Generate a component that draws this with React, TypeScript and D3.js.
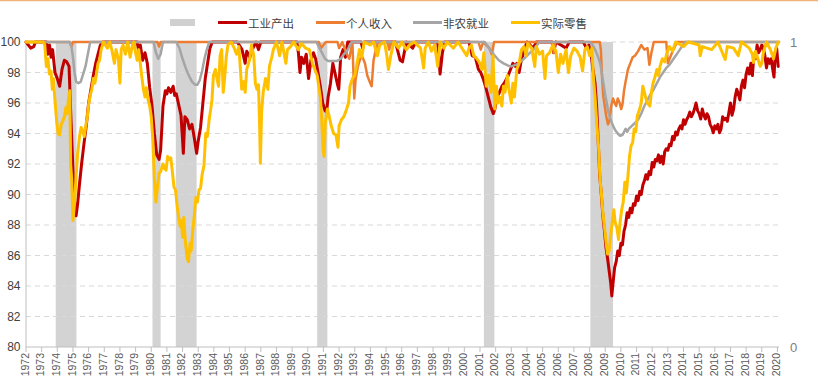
import React from 'react'
import * as d3 from 'd3'

// [year, % of prior peak]
const industrial: [number, number][] = [
  [1972.0,100],[1972.3,99.6],[1972.5,99.7],[1972.6,100],[1973.3,100],[1973.4,99.2],[1973.5,99.8],[1973.6,99.0],[1973.7,99.5],[1973.85,98.0],[1974.0,97.6],[1974.15,97.1],[1974.3,98.2],[1974.45,98.8],[1974.6,98.7],[1974.75,98.4],[1974.85,95.5],[1975.0,91.6],[1975.1,89.5],[1975.2,88.6],[1975.3,89.4],[1975.4,90.5],[1975.55,92.0],[1975.7,93.3],[1975.85,94.5],[1976.0,96.0],[1976.15,96.9],[1976.3,97.8],[1976.45,98.6],[1976.6,99.2],[1976.75,99.8],[1976.9,100],
  [1979.1,100],[1979.2,99.4],[1979.3,99.8],[1979.45,98.8],[1979.6,99.3],[1979.75,98.6],[1979.9,97.0],[1980.05,95.8],[1980.2,94.0],[1980.35,92.6],[1980.5,92.3],[1980.6,92.9],[1980.75,95.8],[1980.9,96.8],[1981.0,96.6],[1981.1,97.0],[1981.25,96.7],[1981.4,97.1],[1981.5,96.5],[1981.6,96.6],[1981.75,95.9],[1981.9,95.2],[1982.0,93.6],[1982.05,92.7],[1982.15,95.1],[1982.3,94.9],[1982.45,94.3],[1982.6,94.6],[1982.75,93.7],[1982.9,92.7],[1983.0,93.5],[1983.15,94.4],[1983.3,96.0],[1983.45,97.6],[1983.6,98.6],[1983.75,99.6],[1983.9,100],
  [1985.5,100],[1985.8,99.5],[1986.0,98.6],[1986.1,99.4],[1986.3,99.0],[1986.5,99.6],[1986.7,100],[1986.85,99.5],[1987.0,100],[1989.3,100],[1989.4,99.3],[1989.5,98.0],[1989.6,99.0],[1989.75,98.6],[1989.9,99.2],[1990.05,97.6],[1990.2,98.8],[1990.36,99.3],[1990.5,98.9],[1990.65,98.0],[1990.8,97.1],[1990.95,96.0],[1991.1,95.5],[1991.2,95.4],[1991.3,96.4],[1991.45,97.3],[1991.6,98.6],[1991.75,97.9],[1991.9,97.2],[1991.98,96.9],[1992.1,99.0],[1992.25,99.5],[1992.4,99.0],[1992.55,100],
  [1993.4,100],[1993.5,99.6],[1993.6,100],[1995.6,100],[1995.75,99.4],[1995.9,98.8],[1996.05,98.7],[1996.2,99.5],[1996.3,100],[1996.7,99.6],[1996.9,100],[1998.3,100],[1998.45,97.9],[1998.6,99.3],[1998.75,100],
  [2000.3,100],[2000.5,99.1],[2000.7,99.0],[2000.9,98.2],[2001.05,98.0],[2001.2,97.6],[2001.35,97.1],[2001.55,96.3],[2001.7,95.7],[2001.85,95.3],[2001.95,95.6],[2002.05,96.3],[2002.2,96.6],[2002.4,97.1],[2002.55,97.3],[2002.7,97.6],[2002.8,97.8],[2002.95,98.2],[2003.1,98.6],[2003.25,98.4],[2003.35,98.6],[2003.5,98.0],[2003.6,98.6],[2003.75,99.2],[2003.9,99.7],[2004.0,100],[2004.4,99.6],[2004.6,100],[2005.6,100],[2005.7,99.3],[2005.85,100],[2006.5,99.6],[2006.7,100],
  [2007.6,100],[2007.8,99.6],[2007.95,99.8],[2008.1,99.2],[2008.2,98.3],[2008.35,97.3],[2008.45,95.8],[2008.55,93.5],[2008.65,91.2],[2008.75,90.0],[2008.85,88.6],[2008.95,87.6],[2009.05,86.5],[2009.15,85.8],[2009.25,85.0],[2009.35,84.2],[2009.42,83.35],[2009.5,84.2],[2009.6,85.2],[2009.7,85.6],[2009.8,86.3],[2009.9,86.0],[2010.0,86.8],[2010.1,86.7],[2010.2,87.6],[2010.3,88.0],[2010.4,88.8],[2010.5,88.5],[2010.6,89.1],[2010.7,88.8],[2010.8,89.4],[2010.9,89.3],[2011.0,89.9],[2011.1,89.6],[2011.2,90.2],[2011.3,90.0],[2011.4,90.6],[2011.5,90.9],[2011.6,91.3],[2011.7,91.0],[2011.8,91.5],[2011.9,91.3],
  [2012.0,92.1],[2012.1,91.8],[2012.2,92.3],[2012.3,92.2],[2012.4,92.6],[2012.5,92.1],[2012.6,92.5],[2012.7,92.0],[2012.8,92.8],[2012.9,93.0],[2013.0,92.9],[2013.1,93.3],[2013.2,93.2],[2013.3,93.8],[2013.4,93.6],[2013.5,94.1],[2013.6,93.9],[2013.7,94.3],[2013.8,94.5],[2013.9,94.3],[2014.0,94.9],[2014.1,94.6],[2014.2,94.9],[2014.3,95.1],[2014.4,95.4],[2014.5,95.1],[2014.6,95.3],[2014.7,95.6],[2014.8,96.0],[2014.9,95.5],[2015.0,95.3],[2015.1,94.95],[2015.2,95.6],[2015.3,95.2],[2015.4,94.95],[2015.5,95.3],[2015.6,95.1],[2015.7,94.6],[2015.8,94.4],[2015.9,94.05],
  [2016.0,94.5],[2016.1,94.3],[2016.2,94.6],[2016.3,94.05],[2016.4,94.3],[2016.5,95.1],[2016.6,94.9],[2016.7,95.0],[2016.8,94.8],[2016.9,95.4],[2017.0,96.0],[2017.1,95.2],[2017.2,95.6],[2017.3,96.4],[2017.4,96.9],[2017.5,96.6],[2017.6,96.2],[2017.7,97.1],[2017.8,97.5],[2017.9,97.0],[2018.0,97.9],[2018.1,98.3],[2018.2,97.9],[2018.3,98.6],[2018.4,97.8],[2018.5,99.2],[2018.6,98.9],[2018.7,99.8],[2018.8,99.3],[2018.9,99.5],[2019.0,99.8],[2019.1,99.6],[2019.2,99.1],[2019.3,98.3],[2019.4,98.9],[2019.5,98.6],[2019.6,98.9],[2019.7,98.2],[2019.78,97.7],[2019.87,99.4],[2019.95,99.6],[2020.05,98.4],
]

const income: [number, number][] = [
  [1972,100],[1974.8,100],[1974.9,99.7],[1975.0,100],[1980.4,100],[1980.5,99.7],[1980.6,100],[1990.7,100],[1990.85,99.6],[1991.0,99.8],[1991.15,100],[1991.9,100],[1992.0,99.6],[1992.2,100],[1992.5,99.2],[1992.65,98.9],[1992.85,100],[1992.97,96.3],[1993.05,97.5],[1993.2,98.4],[1993.35,98.9],[1993.5,99.0],[1993.65,98.6],[1993.8,97.8],[1993.95,97.4],[1994.08,97.1],[1994.2,98.8],[1994.35,99.5],[1994.5,100],
  [1995.1,100],[1995.2,99.5],[1995.35,100],[2000.9,100],[2001.05,99.5],[2001.2,100],[2001.6,99.6],[2001.75,99.2],[2001.9,100],[2005.6,100],[2005.7,99.3],[2005.8,100],
  [2008.65,100],[2008.72,99.5],[2008.8,97.6],[2008.88,96.4],[2008.97,95.8],[2009.07,95.1],[2009.18,94.6],[2009.28,94.9],[2009.38,95.8],[2009.5,96.3],[2009.6,96.0],[2009.7,95.8],[2009.8,96.3],[2009.92,96.0],[2010.02,95.6],[2010.1,95.9],[2010.2,96.8],[2010.3,97.4],[2010.45,98.2],[2010.6,98.6],[2010.75,99.0],[2010.9,99.1],[2011.1,99.4],[2011.3,99.8],[2011.5,99.5],[2011.7,99.6],[2011.82,98.5],[2011.95,99.3],[2012.1,100],[2012.9,100],[2013.0,98.6],[2013.15,99.0],[2013.35,99.5],[2013.6,100],[2020.1,100],
]

const payrolls: [number, number][] = [
  [1972,100],[1974.8,100],[1974.9,99.7],[1975.0,99.0],[1975.1,98.0],[1975.2,97.4],[1975.35,97.3],[1975.5,97.4],[1975.65,97.9],[1975.8,98.4],[1975.95,99.2],[1976.1,100],
  [1980.15,100],[1980.3,99.3],[1980.45,98.9],[1980.6,99.2],[1980.75,100],[1981.6,100],[1981.8,99.6],[1982.0,98.9],[1982.2,98.3],[1982.4,97.8],[1982.6,97.4],[1982.8,97.2],[1982.95,97.2],[1983.1,97.5],[1983.25,98.1],[1983.4,98.9],[1983.55,99.5],[1983.7,100],
  [1990.55,100],[1990.7,99.7],[1990.9,99.3],[1991.1,98.9],[1991.3,98.75],[1991.6,98.75],[1991.85,98.75],[1992.1,98.9],[1992.3,99.2],[1992.5,99.4],[1992.8,100],
  [2001.3,100],[2001.5,99.7],[2001.7,99.4],[2001.95,99.1],[2002.2,98.8],[2002.5,98.6],[2002.8,98.45],[2003.0,98.4],[2003.3,98.5],[2003.6,98.7],[2003.9,99.0],[2004.2,99.3],[2004.5,99.6],[2004.8,100],
  [2008.0,100],[2008.2,99.8],[2008.4,99.4],[2008.55,99.0],[2008.7,98.5],[2008.8,97.8],[2008.9,97.2],[2009.0,96.5],[2009.1,96.0],[2009.2,95.4],[2009.35,94.9],[2009.5,94.5],[2009.65,94.2],[2009.8,94.0],[2009.95,93.85],[2010.1,93.9],[2010.2,94.1],[2010.3,94.3],[2010.4,94.1],[2010.5,94.3],[2010.7,94.5],[2010.9,94.7],[2011.1,94.9],[2011.3,95.3],[2011.5,95.8],[2011.7,96.2],[2011.9,96.6],[2012.1,96.9],[2012.3,97.3],[2012.5,97.7],[2012.7,98.0],[2012.9,98.3],[2013.1,98.5],[2013.3,98.8],[2013.5,99.1],[2013.7,99.4],[2013.9,99.7],[2014.1,100],[2020.1,100],
]

const retail: [number, number][] = [
  [1972.0,100],[1973.1,100],[1973.2,99.8],[1973.3,98.4],[1973.4,98.9],[1973.5,97.9],[1973.6,98.1],[1973.68,96.9],[1973.75,97.6],[1973.85,96.2],[1973.95,94.9],[1974.05,94.0],[1974.15,93.9],[1974.25,94.6],[1974.35,94.8],[1974.45,95.1],[1974.55,95.7],[1974.62,95.3],[1974.72,96.3],[1974.8,96.8],[1974.85,92.0],[1974.92,91.0],[1975.0,88.3],[1975.1,89.4],[1975.2,91.2],[1975.3,92.7],[1975.42,93.8],[1975.52,94.4],[1975.62,94.2],[1975.72,93.8],[1975.82,94.5],[1975.92,95.1],[1976.0,95.9],[1976.1,96.5],[1976.2,96.9],[1976.3,97.6],[1976.4,97.3],[1976.5,97.9],[1976.6,98.6],[1976.7,98.8],[1976.8,99.5],[1976.95,100],
  [1977.2,99.6],[1977.35,100],[1977.5,99.4],[1977.65,98.6],[1977.75,99.5],[1977.9,98.9],[1978.0,97.3],[1978.08,99.5],[1978.2,99.8],[1978.35,99.2],[1978.5,100],[1978.65,99.0],[1978.8,99.8],[1978.9,100],[1979.0,99.3],[1979.1,98.8],[1979.2,99.5],[1979.3,98.6],[1979.4,97.7],[1979.5,96.9],[1979.6,96.4],[1979.68,97.0],[1979.8,96.2],[1979.9,95.8],[1980.0,95.1],[1980.1,93.6],[1980.2,91.0],[1980.3,89.5],[1980.4,90.5],[1980.5,91.4],[1980.6,91.5],[1980.75,92.0],[1980.85,91.7],[1980.95,91.6],
  [1981.05,92.5],[1981.15,92.3],[1981.25,92.4],[1981.35,91.5],[1981.45,90.5],[1981.55,90.3],[1981.65,89.3],[1981.75,88.5],[1981.85,87.9],[1981.92,88.3],[1982.0,87.2],[1982.08,88.5],[1982.18,86.9],[1982.3,85.8],[1982.38,85.6],[1982.48,86.8],[1982.55,86.3],[1982.65,87.6],[1982.75,88.6],[1982.85,89.8],[1982.95,89.5],[1983.05,90.3],[1983.15,90.4],[1983.25,91.3],[1983.37,91.9],[1983.48,94.0],[1983.58,93.8],[1983.7,94.9],[1983.8,95.6],[1983.88,96.2],[1983.97,97.8],
  [1984.1,98.2],[1984.2,97.6],[1984.3,97.1],[1984.4,99.1],[1984.5,99.5],[1984.6,96.7],[1984.7,97.8],[1984.8,99.1],[1984.9,99.8],[1985.1,100],[1985.3,99.6],[1985.45,99.2],[1985.6,99.7],[1985.78,96.9],[1985.9,97.4],[1986.0,96.7],[1986.1,98.2],[1986.3,98.9],[1986.4,99.8],[1986.55,99.1],[1986.65,97.3],[1986.75,96.9],[1986.85,97.2],[1986.92,94.7],[1986.97,92.05],[1987.05,95.4],[1987.15,96.7],[1987.3,97.6],[1987.45,96.9],[1987.55,98.4],[1987.7,99.0],[1987.8,99.5],
  [1988.0,100],[1988.2,99.1],[1988.35,100],[1988.6,98.6],[1988.7,99.5],[1988.9,99.7],[1989.1,100],[1989.4,99.5],[1989.6,99.9],[1989.85,99.6],[1990.1,99.5],[1990.3,98.6],[1990.45,98.2],[1990.6,97.8],[1990.8,96.4],[1990.88,95.1],[1990.97,93.0],[1991.04,92.5],[1991.12,94.7],[1991.25,95.6],[1991.35,95.2],[1991.5,94.5],[1991.65,94.0],[1991.8,93.9],[1991.93,93.1],[1992.0,94.5],[1992.15,94.9],[1992.3,95.1],[1992.45,95.5],[1992.6,96.0],[1992.7,97.1],[1992.85,97.6],[1993.0,97.8],[1993.15,98.6],[1993.3,99.5],[1993.45,99.0],[1993.6,100],
  [1994.0,99.8],[1994.2,100],[1994.45,99.1],[1994.6,99.8],[1994.9,100],[1995.05,99.1],[1995.15,98.2],[1995.3,99.1],[1995.5,100],[1995.8,99.6],[1996.0,100],[1996.3,99.5],[1996.5,99.8],[1996.8,100],[1997.2,99.6],[1997.4,98.3],[1997.5,99.6],[1997.7,100],[1997.9,99.4],[1998.1,99.8],[1998.3,98.4],[1998.45,100],[1998.7,99.6],[1998.9,100],[1999.3,99.6],[1999.6,100],
  [2000.15,99.1],[2000.3,99.6],[2000.45,99.8],[2000.6,99.1],[2000.8,98.9],[2001.0,98.6],[2001.12,98.2],[2001.25,99.3],[2001.4,97.1],[2001.55,97.8],[2001.7,96.7],[2001.83,99.1],[2001.95,95.6],[2002.05,97.1],[2002.15,96.0],[2002.25,96.4],[2002.4,95.8],[2002.5,97.1],[2002.6,96.7],[2002.75,97.8],[2002.85,96.9],[2003.0,96.0],[2003.1,97.3],[2003.2,96.4],[2003.35,98.2],[2003.5,98.6],[2003.65,99.5],[2003.8,99.7],[2003.95,99.1],
  [2004.05,99.9],[2004.3,99.6],[2004.5,98.4],[2004.6,99.7],[2004.8,99.2],[2005.0,99.4],[2005.15,97.6],[2005.25,99.1],[2005.45,99.3],[2005.65,99.8],[2005.85,99.4],[2006.0,98.0],[2006.15,99.2],[2006.3,98.6],[2006.5,99.5],[2006.65,98.0],[2006.8,99.1],[2007.0,99.6],[2007.2,99.4],[2007.4,99.0],[2007.55,98.1],[2007.7,99.5],[2007.85,99.7],
  [2008.0,99.1],[2008.15,99.6],[2008.25,97.6],[2008.35,96.4],[2008.47,94.5],[2008.57,93.2],[2008.67,91.0],[2008.75,90.1],[2008.85,88.8],[2008.95,87.9],[2009.05,86.9],[2009.15,86.1],[2009.25,86.3],[2009.35,87.3],[2009.45,88.2],[2009.55,89.0],[2009.63,88.2],[2009.75,87.8],[2009.85,87.05],[2009.95,88.2],[2010.05,89.0],[2010.15,89.5],[2010.25,90.8],[2010.35,90.1],[2010.45,91.2],[2010.55,92.5],[2010.65,93.2],[2010.75,93.4],[2010.85,94.3],[2010.95,94.1],
  [2011.05,95.15],[2011.2,95.6],[2011.3,96.0],[2011.4,97.1],[2011.5,96.7],[2011.6,96.3],[2011.7,96.0],[2011.85,95.8],[2011.95,96.7],[2012.05,97.3],[2012.15,97.6],[2012.3,98.2],[2012.4,97.8],[2012.5,98.4],[2012.65,98.9],[2012.8,98.7],[2012.95,99.3],[2013.1,99.7],[2013.3,99.4],[2013.5,100],[2014.0,99.7],[2014.3,100],[2015.0,99.8],[2015.07,99.1],[2015.2,99.7],[2015.8,99.5],[2016.2,100],[2016.66,98.85],[2016.8,99.7],
  [2017.2,99.6],[2017.5,99.1],[2017.7,100],[2018.2,99.6],[2018.4,99.2],[2018.47,98.65],[2018.6,99.4],[2018.75,98.9],[2018.9,98.4],[2019.0,98.6],[2019.1,99.3],[2019.3,100],[2019.55,99.5],[2019.75,98.9],[2019.9,99.6],[2020.05,100],
]

const recessions: [number, number][] = [
  [1973.9, 1975.22], [1980.08, 1980.6], [1981.57, 1982.9],
  [1990.6, 1991.25], [2001.25, 2001.92], [2008.05, 2009.5],
]

const yTicks = [80, 82, 84, 86, 88, 90, 92, 94, 96, 98, 100]
const years = d3.range(1972, 2021)

const series = [
  { name: '工业产出', data: industrial, color: '#C00000', width: 3 },
  { name: '个人收入', data: income, color: '#ED7D31', width: 2.5 },
  { name: '非农就业', data: payrolls, color: '#A5A5A5', width: 2.5 },
  { name: '实际零售', data: retail, color: '#FFC000', width: 3 },
]

const W = 818
const H = 387
const FONT = '"Liberation Sans", Arial, "Noto Sans CJK SC", sans-serif'

export default function App() {
  const x = d3.scaleLinear().domain([1972, 2020.1]).range([26, 779])
  const y = d3.scaleLinear().domain([80, 100]).range([347, 42])
  const line = d3.line<[number, number]>().x(d => x(d[0])).y(d => y(d[1]))

  const legendX = [218, 316, 413, 511]

  return (
    <svg width={W} height={H} style={{ position: 'absolute', left: 0, top: 0, background: '#fff' }} fontFamily={FONT}>
      <line x1={0} x2={W} y1={0.5} y2={0.5} stroke="#F0B27A" strokeWidth={1.5} />

      {/* legend */}
      <rect x={170} y={19} width={25} height={7} fill="#D0D0D0" />
      {series.map((s, i) => (
        <g key={s.name}>
          <line x1={legendX[i]} x2={legendX[i] + 29} y1={22.5} y2={22.5} stroke={s.color} strokeWidth={3} />
          <text x={legendX[i] + 30} y={23} fontSize={11.5} fill="#404040" dominantBaseline="central"
            fontFamily='"Noto Sans CJK SC", sans-serif'>{s.name}</text>
        </g>
      ))}

      {/* recession bars */}
      {recessions.map(([a, b]) => (
        <rect key={a} x={x(a)} y={y(100)} width={x(b) - x(a)} height={y(80) - y(100)} fill="#D3D3D3" />
      ))}

      {/* gridlines */}
      {yTicks.slice(1).map(t => (
        <line key={t} x1={x(1972)} x2={779} y1={y(t)} y2={y(t)} stroke="#D9D9D9" strokeDasharray="5,4" />
      ))}

      {/* axes */}
      <line x1={x(1972)} x2={x(1972)} y1={y(100)} y2={y(80)} stroke="#BFBFBF" />
      <line x1={x(1972)} x2={779} y1={y(80)} y2={y(80)} stroke="#BFBFBF" />
      {years.map(t => (
        <g key={t}>
          <line x1={x(t)} x2={x(t)} y1={y(80)} y2={y(80) + 5} stroke="#BFBFBF" />
          <text transform={`translate(${x(t) - 1},${y(80) + 6}) rotate(-90)`} textAnchor="end" dy="0.35em"
            fontSize={10.5} fill="#595959">{t}</text>
        </g>
      ))}
      {yTicks.map(t => (
        <text key={t} x={20.5} y={y(t)} dy="0.35em" textAnchor="end" fontSize={12} fill="#404040">{t}</text>
      ))}
      <text x={790} y={y(100)} dy="0.35em" fontSize={13} fill="#808080">1</text>
      <text x={790} y={y(80)} dy="0.35em" fontSize={13} fill="#808080">0</text>

      {/* series */}
      {series.map(s => (
        <path key={s.name} d={line(s.data) || ''} fill="none" stroke={s.color} strokeWidth={s.width}
          strokeLinejoin="round" strokeLinecap="round" />
      ))}
    </svg>
  )
}
